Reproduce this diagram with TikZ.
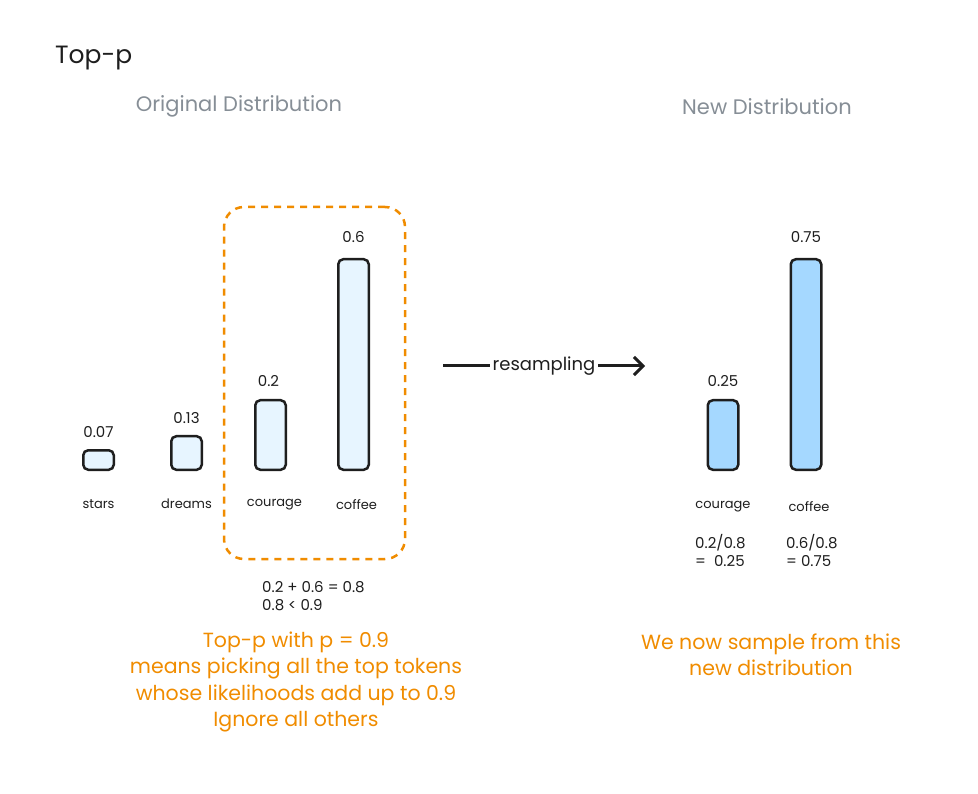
\documentclass[tikz,border=0pt]{standalone}
\usepackage{fontspec}
\setmainfont{Poppins}
\usetikzlibrary{positioning, arrows.meta}

\definecolor{ink}{HTML}{1E1E1E}
\definecolor{oldfill}{HTML}{E7F5FF}
\definecolor{newfill}{HTML}{A5D8FF}
\definecolor{note}{HTML}{F08C00}
\definecolor{heading}{HTML}{868E96}

\tikzset{
    bar/.style={draw=ink, line width=2.5pt, rounded corners=5pt, minimum width=30.5pt, inner sep=0pt, anchor=south},
    oldbar/.style={bar, fill=oldfill},
    newbar/.style={bar, fill=newfill},
    small/.style={font=\fontsize{13}{18}\selectfont, text=ink, inner sep=0pt},
    num/.style={font=\fontsize{15}{18}\selectfont, text=ink, inner sep=0pt},
    notetext/.style={font=\fontsize{20.5}{26.5}\selectfont, text=note, align=center},
    heading/.style={font=\fontsize{21}{24}\selectfont, text=heading}
}

\begin{document}
\begin{tikzpicture}[x=1pt, y=-1pt]
    \useasboundingbox (0, 0) rectangle (978, 794);

    \node[font=\fontsize{25}{28}\selectfont, text=ink, anchor=west, inner sep=0pt] (title) at (55, 58) {Top-p};
    \node[heading] (oldhead) at (239, 106) {Original Distribution};
    \node[heading] (newhead) at (767, 107) {New Distribution};

    \node[draw=note, line width=2.5pt, dash pattern=on 7pt off 6pt, rounded corners=20pt, minimum width=181pt, minimum height=352pt] (topbox) at (314.5, 383) {};

    \node[oldbar, minimum height=19.5pt] (stars) at (98.5, 471) {};
    \node[oldbar, minimum height=33.5pt] (dreams) at (186.5, 471) {};
    \node[oldbar, minimum height=69.5pt] (courage) at (270.5, 471) {};
    \node[oldbar, minimum height=210.5pt] (coffee) at (353.5, 471) {};

    \node[num, above=11pt of stars] (starsp) {0.07};
    \node[num, above=11pt of dreams] (dreamsp) {0.13};
    \node[num, above=12pt of courage, xshift=-2pt] (couragep) {0.2};
    \node[num, above=15pt of coffee] (coffeep) {0.6};

    \node[small, below=28pt of stars] (starsw) {stars};
    \node[small, below=28pt of dreams] (dreamsw) {dreams};
    \node[small, below=28pt of courage, xshift=4pt] (couragew) {courage};
    \node[small, below=28pt of coffee, xshift=3pt] (coffeew) {coffee};

    \node[num, align=left, anchor=north west] (sum) at (262, 581) {0.2 + 0.6 = 0.8\\0.8 < 0.9};

    \node[notetext] (topnote) at (296, 682) {Top-p with p = 0.9\\means picking all the top tokens\\whose likelihoods add up to 0.9\\Ignore all others};

    \coordinate (rsstart) at (443, 366);
    \coordinate (rsend) at (645, 366);
    \draw[ink, line width=3pt, -{Straight Barb[length=9pt, width=18pt]}] (rsstart) -- (rsend) node[midway, fill=white, text=ink, font=\fontsize{18}{20}\selectfont, inner xsep=3pt] (rslabel) {resampling};

    \node[newbar, minimum height=69.5pt] (newcourage) at (723, 471) {};
    \node[newbar, minimum height=210.5pt] (newcoffee) at (806, 471) {};

    \node[num, above=12pt of newcourage] (newcouragep) {0.25};
    \node[num, above=15pt of newcoffee] (newcoffeep) {0.75};

    \node[small, below=30pt of newcourage] (newcouragew) {courage};
    \node[small, below=30pt of newcoffee, xshift=3pt] (newcoffeew) {coffee};

    \node[num, align=left, anchor=north west] (newcouragec) at (695, 534) {0.2/0.8\\=\ \ 0.25};
    \node[num, align=left, anchor=north west] (newcoffeec) at (786, 534) {0.6/0.8\\= 0.75};

    \node[notetext] (newnote) at (771, 655) {We now sample from this\\new distribution};
\end{tikzpicture}
\end{document}
